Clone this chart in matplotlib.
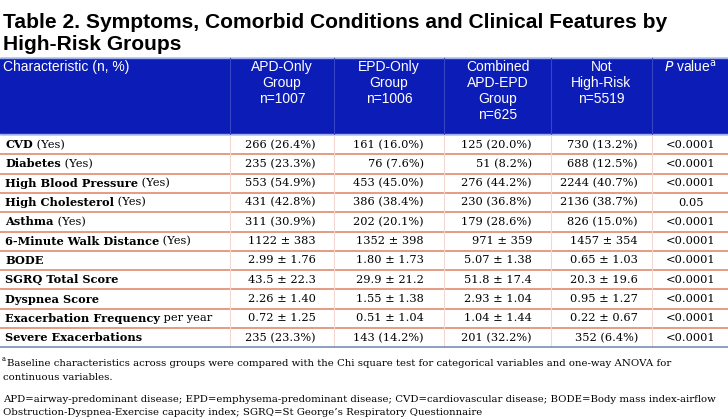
import matplotlib
matplotlib.use("Agg")
import matplotlib.pyplot as plt
from matplotlib.patches import Rectangle

# ---- table content ----
title_lines = ["Table 2. Symptoms, Comorbid Conditions and Clinical Features by",
               "High-Risk Groups"]
headers = [["APD-Only", "Group", "n=1007"],
           ["EPD-Only", "Group", "n=1006"],
           ["Combined", "APD-EPD", "Group", "n=625"],
           ["Not", "High-Risk", "n=5519"]]
row_bold = ["CVD", "Diabetes", "High Blood Pressure", "High Cholesterol", "Asthma",
            "6-Minute Walk Distance", "BODE", "SGRQ Total Score", "Dyspnea Score",
            "Exacerbation Frequency", "Severe Exacerbations"]
row_extra = [" (Yes)", " (Yes)", " (Yes)", " (Yes)", " (Yes)", " (Yes)", "", "", "",
             " per year", ""]
apd_only = ["266 (26.4%)", "235 (23.3%)", "553 (54.9%)", "431 (42.8%)", "311 (30.9%)",
            "1122 \u00b1 383", "2.99 \u00b1 1.76", "43.5 \u00b1 22.3", "2.26 \u00b1 1.40",
            "0.72 \u00b1 1.25", "235 (23.3%)"]
epd_only = ["161 (16.0%)", "76 (7.6%)", "453 (45.0%)", "386 (38.4%)", "202 (20.1%)",
            "1352 \u00b1 398", "1.80 \u00b1 1.73", "29.9 \u00b1 21.2", "1.55 \u00b1 1.38",
            "0.51 \u00b1 1.04", "143 (14.2%)"]
combined = ["125 (20.0%)", "51 (8.2%)", "276 (44.2%)", "230 (36.8%)", "179 (28.6%)",
            "971 \u00b1 359", "5.07 \u00b1 1.38", "51.8 \u00b1 17.4", "2.93 \u00b1 1.04",
            "1.04 \u00b1 1.44", "201 (32.2%)"]
not_high = ["730 (13.2%)", "688 (12.5%)", "2244 (40.7%)", "2136 (38.7%)", "826 (15.0%)",
            "1457 \u00b1 354", "0.65 \u00b1 1.03", "20.3 \u00b1 19.6", "0.95 \u00b1 1.27",
            "0.22 \u00b1 0.67", "352 (6.4%)"]
p_values = ["<0.0001", "<0.0001", "<0.0001", "0.05", "<0.0001", "<0.0001", "<0.0001",
            "<0.0001", "<0.0001", "<0.0001", "<0.0001"]
foot1 = ["Baseline characteristics across groups were compared with the Chi square test for categorical variables and one-way ANOVA for",
         "continuous variables."]
foot2 = ["APD=airway-predominant disease; EPD=emphysema-predominant disease; CVD=cardiovascular disease; BODE=Body mass index-airflow",
         "Obstruction-Dyspnea-Exercise capacity index; SGRQ=St George\u2019s Respiratory Questionnaire"]

BLUE = "#0c1cb6"
ROWLINE = "#e08a70"
SANS = ["Liberation Sans", "DejaVu Sans"]
SERIF = ["DejaVu Serif"]

fig = plt.figure(figsize=(7.28, 4.19), dpi=100)
ax = fig.add_axes([0, 0, 1, 1])
ax.set_xlim(0, 728)
ax.set_ylim(419, 0)
ax.axis("off")

# title
ax.text(3, 22, title_lines[0], fontsize=15.1, fontweight="bold", family=SANS, va="center")
ax.text(3, 45, title_lines[1], fontsize=15.1, fontweight="bold", family=SANS, va="center")

# header block
col_edges = [0, 230, 334, 444, 551, 652, 728]
h_top, h_bot = 58, 134
ax.add_patch(Rectangle((0, h_top), 728, h_bot - h_top, color=BLUE, zorder=1))
ax.plot([0, 728], [h_top, h_top], color="#9fb0e8", lw=1, zorder=2)
ax.plot([0, 728], [h_bot, h_bot], color="#9fb0e8", lw=1, zorder=2)
for x in col_edges[1:-1]:
    ax.plot([x, x], [h_top, h_bot], color="#3545c4", lw=0.8, zorder=2)

ax.text(3, 67, "Characteristic (n, %)", color="white", fontsize=10, family=SANS,
        va="center", zorder=3)
for i, lines in enumerate(headers):
    cx = (col_edges[i + 1] + col_edges[i + 2]) / 2
    for j, s in enumerate(lines):
        ax.text(cx, 67 + 16 * j, s, color="white", fontsize=10, family=SANS,
                ha="center", va="center", zorder=3)
ax.text(690, 67, r"$\it{P}$ value$^{\rm a}$", color="white", fontsize=10, family=SANS,
        ha="center", va="center", zorder=3)

# body rows
row_top = 135
row_h = 19.3
n = len(row_bold)
cols = [apd_only, epd_only, combined, not_high]
right_x = [316, 424, 532, 638]
renderer = fig.canvas.get_renderer()
for r in range(n):
    yc = row_top + row_h * (r + 0.5)
    t = ax.text(5, yc, row_bold[r], fontsize=8.2, fontweight="bold", family=SERIF,
                va="center")
    if row_extra[r]:
        bb = t.get_window_extent(renderer=renderer)
        x_end = ax.transData.inverted().transform((bb.x1, 0))[0]
        ax.text(x_end, yc, row_extra[r], fontsize=8.2, family=SERIF, va="center")
    for c in range(4):
        ax.text(right_x[c], yc, cols[c][r], fontsize=8.2, family=SERIF,
                ha="right", va="center")
    ax.text(691, yc, p_values[r], fontsize=8.2, family=SERIF, ha="center", va="center")
    if r < n - 1:
        yb = row_top + row_h * (r + 1)
        ax.plot([0, 728], [yb, yb], color=ROWLINE, lw=1.2)

table_bot = row_top + row_h * n
for x in col_edges[1:-1]:
    ax.plot([x, x], [row_top, table_bot], color="#f3d8d0", lw=0.8)
ax.plot([0, 728], [table_bot, table_bot], color="#7890b4", lw=1.2)

# footnotes
FS = 7.3
ax.text(2, 359, "a", fontsize=4.8, family=SERIF, va="center")
ax.text(7, 363, foot1[0], fontsize=FS, family=SERIF, va="center")
ax.text(3, 377, foot1[1], fontsize=FS, family=SERIF, va="center")
ax.text(3, 399, foot2[0], fontsize=FS, family=SERIF, va="center")
ax.text(3, 412, foot2[1], fontsize=FS, family=SERIF, va="center")

fig.savefig("out.png", dpi=100)
